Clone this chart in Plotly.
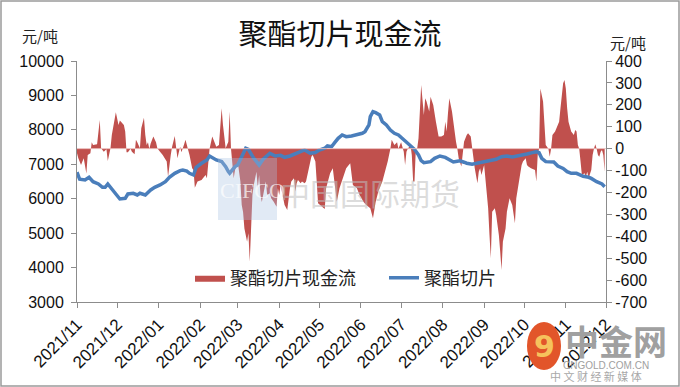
import plotly.graph_objects as go

# ---------------- data ----------------
month_ticks = ["2021-11-01", "2021-12-01", "2022-01-01", "2022-02-01", "2022-03-01", "2022-04-01",
               "2022-05-01", "2022-06-01", "2022-07-01", "2022-08-01", "2022-09-01", "2022-10-01",
               "2022-11-01", "2022-12-01"]
month_labels = ["2021/11", "2021/12", "2022/01", "2022/02", "2022/03", "2022/04", "2022/05",
                "2022/06", "2022/07", "2022/08", "2022/09", "2022/10", "2022/11", "2022/12"]

left_ticks = [3000, 4000, 5000, 6000, 7000, 8000, 9000, 10000]
right_ticks = [-700, -600, -500, -400, -300, -200, -100, 0, 100, 200, 300, 400]

cf_dates = [
    "2021-11-01", "2021-11-02", "2021-11-04", "2021-11-06", "2021-11-08", "2021-11-09", "2021-11-11",
    "2021-11-12", "2021-11-13", "2021-11-16", "2021-11-18", "2021-11-19", "2021-11-21", "2021-11-23",
    "2021-11-24", "2021-11-26", "2021-11-27", "2021-11-29", "2021-11-30",
    "2021-12-02", "2021-12-03", "2021-12-06", "2021-12-07", "2021-12-08", "2021-12-09", "2021-12-11",
    "2021-12-12", "2021-12-14", "2021-12-15", "2021-12-16", "2021-12-18", "2021-12-19", "2021-12-21",
    "2021-12-22", "2021-12-23", "2021-12-24", "2021-12-25", "2021-12-26", "2021-12-28", "2021-12-30",
    "2021-12-31",
    "2022-01-02", "2022-01-04", "2022-01-07", "2022-01-08", "2022-01-10", "2022-01-11", "2022-01-13",
    "2022-01-14", "2022-01-15", "2022-01-17", "2022-01-18", "2022-01-20", "2022-01-21", "2022-01-23",
    "2022-01-24", "2022-01-26", "2022-01-27", "2022-01-28", "2022-01-30",
    "2022-02-02", "2022-02-05", "2022-02-06", "2022-02-07", "2022-02-08", "2022-02-10", "2022-02-12",
    "2022-02-13", "2022-02-15", "2022-02-17", "2022-02-18", "2022-02-20", "2022-02-22", "2022-02-23",
    "2022-02-24", "2022-02-25", "2022-02-26", "2022-02-27", "2022-02-28",
    "2022-03-01", "2022-03-03", "2022-03-04", "2022-03-05", "2022-03-06", "2022-03-08", "2022-03-09",
    "2022-03-10", "2022-03-11", "2022-03-12", "2022-03-13", "2022-03-15", "2022-03-16", "2022-03-17",
    "2022-03-18", "2022-03-19", "2022-03-21", "2022-03-22", "2022-03-23", "2022-03-25", "2022-03-26",
    "2022-03-28", "2022-03-30", "2022-03-31",
    "2022-04-01", "2022-04-02", "2022-04-03", "2022-04-05", "2022-04-07", "2022-04-08", "2022-04-09",
    "2022-04-10", "2022-04-12", "2022-04-13", "2022-04-14", "2022-04-15", "2022-04-17", "2022-04-18",
    "2022-04-20", "2022-04-21", "2022-04-23", "2022-04-24", "2022-04-25", "2022-04-26", "2022-04-28",
    "2022-04-29", "2022-04-30",
    "2022-05-03", "2022-05-05", "2022-05-06", "2022-05-09", "2022-05-11", "2022-05-14", "2022-05-16",
    "2022-05-19", "2022-05-21", "2022-05-24", "2022-05-25", "2022-05-26", "2022-05-29", "2022-05-31",
    "2022-06-03", "2022-06-05", "2022-06-08", "2022-06-10", "2022-06-12", "2022-06-14", "2022-06-17",
    "2022-06-19", "2022-06-21", "2022-06-23", "2022-06-24", "2022-06-26", "2022-06-28", "2022-06-29",
    "2022-07-01", "2022-07-03", "2022-07-04", "2022-07-05", "2022-07-06", "2022-07-08", "2022-07-09",
    "2022-07-10", "2022-07-11", "2022-07-12", "2022-07-13", "2022-07-14", "2022-07-16", "2022-07-18",
    "2022-07-19", "2022-07-20", "2022-07-22", "2022-07-23", "2022-07-25", "2022-07-27", "2022-07-28",
    "2022-07-29", "2022-07-31",
    "2022-08-02", "2022-08-03", "2022-08-04", "2022-08-05", "2022-08-06", "2022-08-08", "2022-08-09",
    "2022-08-10", "2022-08-11", "2022-08-12", "2022-08-13", "2022-08-15", "2022-08-16", "2022-08-17",
    "2022-08-19", "2022-08-20", "2022-08-22", "2022-08-23", "2022-08-25", "2022-08-27", "2022-08-28",
    "2022-08-29", "2022-08-30",
    "2022-09-01", "2022-09-02", "2022-09-03", "2022-09-04", "2022-09-05", "2022-09-06", "2022-09-07",
    "2022-09-09", "2022-09-10", "2022-09-12", "2022-09-13", "2022-09-14", "2022-09-15", "2022-09-17",
    "2022-09-18", "2022-09-19", "2022-09-20", "2022-09-22", "2022-09-23", "2022-09-24", "2022-09-25",
    "2022-09-27", "2022-09-28", "2022-09-29", "2022-09-30",
    "2022-10-02", "2022-10-03", "2022-10-04", "2022-10-06", "2022-10-09", "2022-10-10", "2022-10-11",
    "2022-10-12", "2022-10-13", "2022-10-15", "2022-10-16", "2022-10-17", "2022-10-19", "2022-10-20",
    "2022-10-21", "2022-10-22", "2022-10-24", "2022-10-25", "2022-10-27", "2022-10-28", "2022-10-30",
    "2022-10-31",
    "2022-11-01", "2022-11-02", "2022-11-03", "2022-11-05", "2022-11-07", "2022-11-08", "2022-11-09",
    "2022-11-10", "2022-11-11", "2022-11-12", "2022-11-13", "2022-11-15", "2022-11-16", "2022-11-17",
    "2022-11-18", "2022-11-20", "2022-11-21", "2022-11-22", "2022-11-23", "2022-11-24", "2022-11-25",
    "2022-11-26", "2022-11-27", "2022-11-28", "2022-11-29", "2022-11-30",
]
cf_values = [
    -21, -44, -75, -44, -113, -29, -21,
    29, 17, 20, 131, 2, -14, -3,
    -56, 2, 62, 123, 166,
    108, 128, 108, 78, -17, -17, 0,
    -14, -26, 40, 29, 2, 93, 141,
    62, 17, 29, -2, 24, 55, 29,
    2,
    -14, -29, -59, -128, -29, 9, 58,
    -6, -44, 9, -17, 20, 40, -6,
    -29, -90, -97, -178, -150,
    -143, -120, -135, -75, 0, 55, 24,
    9, 17, 184, 108, 2, 32, 169,
    0, -75, -135, -97, -75,
    -59, -150, -257, -289, -364, -425, -386,
    -516, -365, -212, -166, -105, -181, -120,
    -212, -243, -181, -150, -212, -204, -227,
    -243, -265, -181,
    -212, -166, -197, -257, -280, -212, -181,
    -150, -135, -196, -158, -143, -158, -150,
    -158, -150, -90, -59, -37, -29, -59,
    -150, -249,
    -265, -275, -181, -112, -90, -242, -181,
    -120, -90, -67, -120, -166, -181, -212,
    -243, -257, -272, -318, -243, -196, -150,
    -105, -59, 0, 40, 17, 29, 0,
    29, -14, -75, -14, 0, 17, -29,
    -150, -150, 0, 0, 47, 291, 154,
    230, 215, 169, 237, 199, 123, 78,
    55, 55,
    62, 123, 78, 161, 230, 169, 123,
    62, 32, 0, -44, -82, -14, 32,
    62, 70, 55, 0, -90, -158, -105,
    -90, -120,
    -75, -135, -212, -272, -394, -500, -288,
    -272, -303, -394, -470, -554, -425, -364,
    -288, -257, -227, -257, -303, -341, -227,
    -150, -120, -75, -59,
    -44, -75, -82, -90, -97, -150, -29,
    0, 275, 215, 78, 17, 0, -37,
    0, 62, 78, 93, 123, 184, 298,
    313,
    275, 184, 123, 78, 62, 85, 78,
    17, 0, -59, -120, -112, -128, -105,
    -135, -97, -29, 0, 20, 0, -29,
    -37, -14, -6, -29, -105,
]

price_dates = [
    "2021-11-01", "2021-11-03", "2021-11-07", "2021-11-10", "2021-11-13", "2021-11-17", "2021-11-20",
    "2021-11-22", "2021-11-24", "2021-11-27", "2021-12-01", "2021-12-03", "2021-12-07", "2021-12-09",
    "2021-12-13", "2021-12-16", "2021-12-18", "2021-12-22", "2021-12-26", "2021-12-29", "2022-01-02",
    "2022-01-06", "2022-01-09", "2022-01-13", "2022-01-17", "2022-01-19", "2022-01-22", "2022-01-24",
    "2022-01-27", "2022-01-29", "2022-02-02", "2022-02-06", "2022-02-08", "2022-02-11", "2022-02-13",
    "2022-02-17", "2022-02-20", "2022-02-22", "2022-02-23", "2022-02-25", "2022-02-27", "2022-03-01",
    "2022-03-04", "2022-03-07", "2022-03-09", "2022-03-13", "2022-03-17", "2022-03-20", "2022-03-25",
    "2022-03-29", "2022-04-02", "2022-04-05", "2022-04-09", "2022-04-13", "2022-04-17", "2022-04-20",
    "2022-04-24", "2022-04-28", "2022-05-01", "2022-05-05", "2022-05-07", "2022-05-10", "2022-05-13",
    "2022-05-15", "2022-05-18", "2022-05-21", "2022-05-25", "2022-05-29", "2022-06-02", "2022-06-04",
    "2022-06-07", "2022-06-08", "2022-06-10", "2022-06-12", "2022-06-15", "2022-06-17", "2022-06-20",
    "2022-06-23", "2022-06-26", "2022-06-29", "2022-07-01", "2022-07-04", "2022-07-06", "2022-07-09",
    "2022-07-11", "2022-07-14", "2022-07-16", "2022-07-18", "2022-07-23", "2022-07-26", "2022-07-30",
    "2022-08-03", "2022-08-06", "2022-08-09", "2022-08-12", "2022-08-14", "2022-08-17", "2022-08-19",
    "2022-08-23", "2022-08-27", "2022-08-30", "2022-09-03", "2022-09-07", "2022-09-10", "2022-09-14",
    "2022-09-18", "2022-09-22", "2022-09-25", "2022-09-29", "2022-10-03", "2022-10-07", "2022-10-10",
    "2022-10-12", "2022-10-14", "2022-10-17", "2022-10-20", "2022-10-23", "2022-10-26", "2022-10-30",
    "2022-11-02", "2022-11-05", "2022-11-09", "2022-11-12", "2022-11-14", "2022-11-18", "2022-11-20",
    "2022-11-24", "2022-11-28", "2022-11-30",
]
price_values = [
    6770, 6565, 6544, 6623, 6495, 6428, 6332,
    6332, 6428, 6274, 6080, 5992, 6012, 6138,
    6158, 6110, 6158, 6110, 6254, 6332, 6400,
    6495, 6623, 6738, 6815, 6835, 6800, 6738,
    6689, 6913, 7030, 7125, 7241, 7174, 7125,
    7080, 6932, 6786, 6738, 6835, 6932, 6980,
    7222, 7465, 7430, 7174, 6980, 7145, 7320,
    7241, 7260, 7203, 7241, 7300, 7366, 7415,
    7320, 7340, 7415, 7465, 7532, 7510, 7657,
    7754, 7851, 7802, 7822, 7851, 7900, 7947,
    8141, 8383, 8528, 8499, 8432, 8237, 8141,
    7996, 7900, 7851, 7780, 7706, 7610, 7512,
    7435, 7270, 7105, 7047, 7077, 7174, 7241,
    7200, 7125, 7067, 7090, 7100, 7060, 7030,
    7000, 7030, 7060, 7077, 7110, 7145, 7222,
    7240, 7210, 7241, 7270, 7300, 7338, 7366,
    7340, 7174, 7077, 7060, 7067, 6950, 6880,
    6786, 6738, 6738, 6689, 6650, 6623, 6590,
    6495, 6428, 6350,
]

cf_name = "聚酯切片现金流"
price_name = "聚酯切片"
title_text = "聚酯切片现金流"
unit_text = "元/吨"

# ---------------- figure ----------------
RED = "#C0504D"
BLUE = "#4A7EBB"
AXIS = "#8C8C8C"
TICKFONT = dict(family="Liberation Sans, Arial, sans-serif", size=16, color="#111111")
CJK = "Noto Sans CJK SC, Noto Sans, sans-serif"

L, R, T, B = 77, 74, 61, 85
W, H = 680, 387
pw, ph = W - L - R, H - T - B


def px(x):
    return (x - L) / pw


def py(y):
    return (H - B - y) / ph


fig = go.Figure()
fig.add_trace(go.Scatter(
    x=cf_dates, y=cf_values, name=cf_name, mode="lines", yaxis="y", legend="legend",
    line=dict(width=0, color=RED), fill="tozeroy", fillcolor=RED,
))
fig.add_trace(go.Scatter(
    x=price_dates, y=price_values, name=price_name, mode="lines", yaxis="y2", legend="legend2",
    line=dict(width=3.5, color=BLUE),
))

LEGFONT = dict(family=CJK, size=18, color="#222222")
fig.update_layout(
    width=W, height=H,
    margin=dict(l=L, r=R, t=T, b=B, autoexpand=False),
    paper_bgcolor="white", plot_bgcolor="white",
    font=dict(family=CJK, color="#111111"),
    showlegend=True,
    legend=dict(orientation="h", x=px(190), xanchor="left", y=py(278), yanchor="middle",
                font=LEGFONT, bgcolor="rgba(0,0,0,0)", itemwidth=30),
    legend2=dict(orientation="h", x=px(384), xanchor="left", y=py(278), yanchor="middle",
                 font=LEGFONT, bgcolor="rgba(0,0,0,0)", itemwidth=30),
    title=dict(text=title_text, x=0.5, xanchor="center", y=0.91, yanchor="middle",
               font=dict(family=CJK, size=29, color="#111111")),
    xaxis=dict(type="date", range=["2021-11-01", "2022-12-01"], automargin=False,
               tickvals=month_ticks, ticktext=month_labels, tickangle=-45,
               tickfont=dict(family="Liberation Sans, Arial, sans-serif", size=17, color="#111111"),
               showline=True, linecolor=AXIS, linewidth=1, ticks="outside", ticklen=5,
               tickcolor=AXIS, showgrid=False, zeroline=False),
    yaxis=dict(side="right", range=[-700, 400], automargin=False,
               tickvals=right_ticks, ticktext=[str(v) for v in right_ticks],
               tickfont=TICKFONT, showline=True, linecolor=AXIS, linewidth=1,
               ticks="outside", ticklen=5, tickcolor=AXIS, showgrid=False, zeroline=False),
    yaxis2=dict(side="left", overlaying="y", range=[3000, 10000], automargin=False,
                tickvals=left_ticks, ticktext=[str(v) for v in left_ticks],
                tickfont=TICKFONT, showline=True, linecolor=AXIS, linewidth=1,
                ticks="outside", ticklen=5, tickcolor=AXIS, ticklabelstandoff=4,
                showgrid=False, zeroline=False),
)

# faint zero line of the area series
fig.add_shape(type="line", xref="paper", yref="y", x0=0, x1=1, y0=0, y1=0,
              line=dict(color="rgba(235,190,188,0.9)", width=1), layer="above")


def note(text, x, y, font):
    fig.add_annotation(text=text, xref="paper", yref="paper", x=px(x), y=py(y),
                       xanchor="center", yanchor="middle", showarrow=False, font=font)


# units
note(unit_text, 40, 36, dict(family=CJK, size=15, color="#222222"))
note(unit_text, 628, 42, dict(family=CJK, size=15, color="#222222"))

# watermark (CIFCO)
fig.add_shape(type="rect", xref="paper", yref="paper",
              x0=px(218), x1=px(277), y0=py(220), y1=py(158),
              fillcolor="rgba(170,195,225,0.35)", line=dict(width=0), layer="above")
note("CIFCO", 252, 190, dict(family="Liberation Serif, serif", size=22, color="rgba(255,255,255,0.7)"))
note("中国国际期货", 370, 192, dict(family=CJK, size=30, color="rgba(190,190,190,0.55)"))

# watermark (中金网 logo)
fig.add_shape(type="circle", xref="paper", yref="paper",
              x0=px(527), x1=px(561), y0=py(370), y1=py(322),
              fillcolor="#E2552A", line=dict(width=0), layer="above")
note("<b>9</b>", 544, 346, dict(family="DejaVu Sans, sans-serif", size=30, color="#F6C25C"))
note("<b>中金网</b>", 616, 340, dict(family=CJK, size=34, color="#A0A0A0"))
note("CNGOLD.COM.CN", 606, 365, dict(family="Liberation Sans, sans-serif", size=10, color="#A0A0A0"))
note("中 文 财 经 新 媒 体", 596, 376, dict(family=CJK, size=11, color="#A8A8A8"))

# outer border
fig.add_shape(type="rect", xref="paper", yref="paper",
              x0=px(1), x1=px(W - 1), y0=py(H - 1), y1=py(1),
              line=dict(color="#9A9A9A", width=1.5), layer="above")

fig.write_html("out.html", config={"displayModeBar": False},
               post_script="document.body.style.margin='0px';")
